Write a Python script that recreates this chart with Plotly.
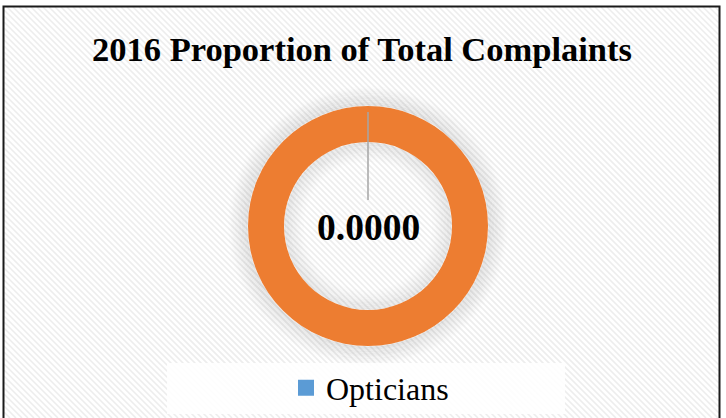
import plotly.graph_objects as go

# ---- data ----
title_text = "2016 Proportion of Total Complaints"
categories = ["Opticians", "Other"]
values = [0.0, 1.0]
colors = ["#5B9BD5", "#ED7D31"]
legend_categories = ["Opticians"]

W, H = 726, 418

def px(x):
    return x / W

def py(y):
    return 1 - y / H

cx, cy, R = 368, 226, 120
hole = 0.70

fig = go.Figure()

# orange ring (and zero Opticians slice)
fig.add_trace(go.Pie(
    labels=categories,
    values=values,
    marker=dict(colors=colors, line=dict(width=0)),
    hole=hole,
    sort=False,
    direction="clockwise",
    rotation=0,
    textinfo="none",
    hoverinfo="label+value",
    showlegend=False,
    domain=dict(x=[px(cx - R), px(cx + R)], y=[py(cy + R), py(cy - R)]),
))

# legend entry only for Opticians
fig.add_trace(go.Scatter(
    x=[None], y=[None], mode="markers", name=legend_categories[0],
    marker=dict(symbol="square", size=16, color=colors[0]),
    showlegend=True,
))

shapes = []

# hatch background inside the frame
fx0, fy0, fx1, fy1 = 4, 7, 719, 418
segs = []
step = 6
c = fx0 - fy1
while c < fx1 - fy0:
    xa = max(fx0, fy0 + c)
    xb = min(fx1, fy1 + c)
    if xa < xb:
        segs.append(f"M{px(xa):.5f},{py(xa - c):.5f}L{px(xb):.5f},{py(xb - c):.5f}")
    c += step
shapes.append(dict(type="path", xref="paper", yref="paper", path="".join(segs),
                   line=dict(color="#ededed", width=1.6), layer="below"))

# soft shadow around the ring
for i in range(14):
    r = R + 1 + i * 1.4
    a = 0.09 * (1 - i / 14)
    shapes.append(dict(type="circle", xref="paper", yref="paper",
                       x0=px(cx - r), x1=px(cx + r), y0=py(cy + r), y1=py(cy - r),
                       line=dict(color=f"rgba(0,0,0,{a:.3f})", width=1.6), layer="below"))
rin = R * hole
for i in range(14):
    r = rin - 1 - i * 1.4
    a = 0.08 * (1 - i / 14)
    shapes.append(dict(type="circle", xref="paper", yref="paper",
                       x0=px(cx - r), x1=px(cx + r), y0=py(cy + r), y1=py(cy - r),
                       line=dict(color=f"rgba(0,0,0,{a:.3f})", width=1.6), layer="below"))

# legend box
shapes.append(dict(type="rect", xref="paper", yref="paper",
                   x0=px(167), x1=px(565), y0=py(414), y1=py(363),
                   fillcolor="rgba(255,255,255,0.85)", line=dict(width=0), layer="below"))

# leader line for zero slice label
shapes.append(dict(type="line", xref="paper", yref="paper",
                   x0=px(cx), x1=px(cx), y0=py(112), y1=py(200),
                   line=dict(color="#a6a6a6", width=1.5)))

# chart frame
shapes.append(dict(type="rect", xref="paper", yref="paper",
                   x0=px(3.5), x1=px(719.5), y0=py(440), y1=py(6.5),
                   line=dict(color="#1a1a1a", width=2)))

fig.update_layout(
    width=W, height=H,
    margin=dict(l=0, r=0, t=0, b=0),
    paper_bgcolor="white", plot_bgcolor="rgba(0,0,0,0)",
    xaxis=dict(visible=False), yaxis=dict(visible=False),
    title=dict(text=f"<b>{title_text}</b>", x=px(362), xanchor="center",
               y=py(49), yanchor="middle",
               font=dict(family="Liberation Serif", size=34.5, color="black")),
    legend=dict(orientation="h", x=px(286), xanchor="left", y=py(388), yanchor="middle",
                bgcolor="rgba(0,0,0,0)",
                font=dict(family="Liberation Serif", size=32, color="black")),
    shapes=shapes,
    annotations=[dict(
        text=f"<b>{values[0]:.4f}</b>", x=px(cx), y=py(228), xref="paper", yref="paper",
        xanchor="center", yanchor="middle", showarrow=False,
        font=dict(family="Liberation Serif", size=37.5, color="black"))],
)

fig.write_html("out.html",
               config={"displayModeBar": False},
               post_script="document.body.style.margin='0';document.body.style.overflow='hidden';")
